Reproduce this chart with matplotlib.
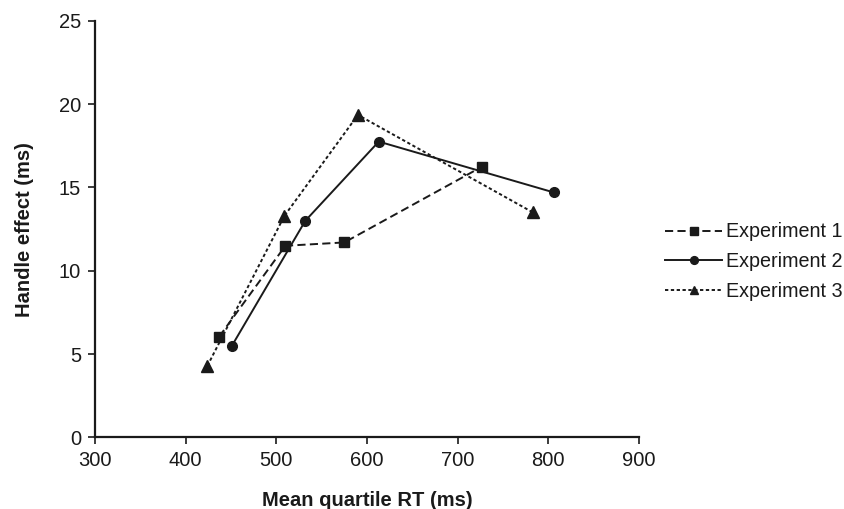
"""Handle effect vs mean quartile RT"""

import matplotlib
matplotlib.use("Agg")
import matplotlib.pyplot as plt

plt.rcParams['font.family'] = ['Liberation Sans', 'DejaVu Sans']

# data
exp1_rt = [437, 510, 575, 727]
exp1_eff = [6.05, 11.5, 11.7, 16.25]
exp2_rt = [451, 532, 613, 806]
exp2_eff = [5.5, 13.0, 17.75, 14.7]
exp3_rt = [424, 509, 590, 783]
exp3_eff = [4.3, 13.3, 19.35, 13.5]

x_ticks = [300, 400, 500, 600, 700, 800, 900]
y_ticks = [0, 5, 10, 15, 20, 25]

ink = '#1a1a1a'


def main():
    fig = plt.figure(figsize=(8.45, 5.09), dpi=100)
    ax = fig.add_axes([0.1124, 0.1405, 0.6438, 0.8188])

    ax.plot(exp1_rt, exp1_eff, color=ink, lw=1.4, dashes=(4.2, 2.2),
            marker='s', ms=7.5, label='Experiment 1')
    ax.plot(exp2_rt, exp2_eff, color=ink, lw=1.4, linestyle='-',
            marker='o', ms=7, label='Experiment 2')
    ax.plot(exp3_rt, exp3_eff, color=ink, lw=1.4, dashes=(1.7, 1.3),
            marker='^', ms=8, label='Experiment 3')

    ax.set_xlim(300, 900)
    ax.set_ylim(0, 25)
    ax.set_xticks(x_ticks)
    ax.set_yticks(y_ticks)
    ax.tick_params(labelsize=14.5, length=5, width=1.2, direction='out',
                   colors=ink, pad=5)

    for side in ['top', 'right']:
        ax.spines[side].set_visible(False)
    for side in ['left', 'bottom']:
        ax.spines[side].set_linewidth(1.6)
        ax.spines[side].set_color(ink)

    ax.set_xlabel('Mean quartile RT (ms)', fontsize=14.5, fontweight='bold',
                  labelpad=15, color=ink)
    ax.set_ylabel('Handle effect (ms)', fontsize=14.5, fontweight='bold',
                  labelpad=18, color=ink)

    ax.legend(loc='center left', bbox_to_anchor=(1.048, 0.4216), frameon=False,
              fontsize=14.2, handlelength=2.9, handletextpad=0.2,
              labelspacing=0.55, borderpad=0, borderaxespad=0,
              markerscale=0.8, labelcolor=ink)

    fig.savefig('out.png', dpi=100)


if __name__ == "__main__":
    main()
